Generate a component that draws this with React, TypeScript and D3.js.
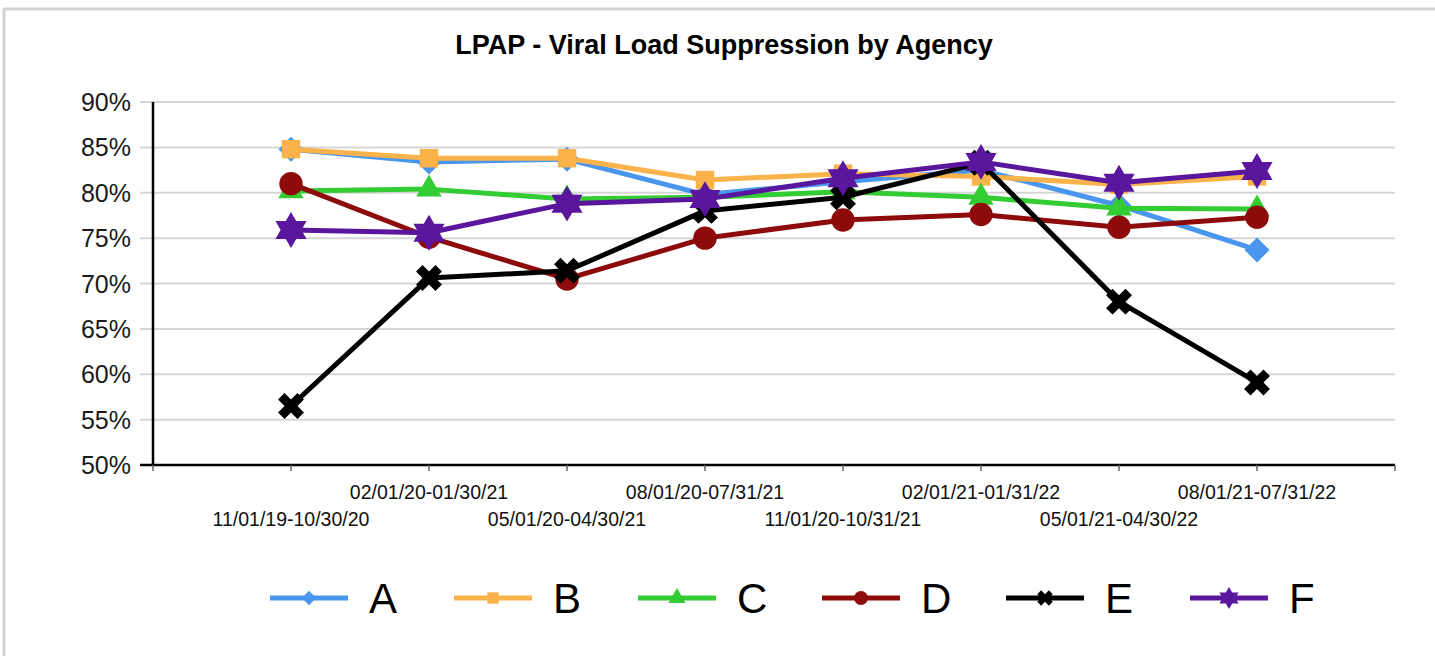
import React, { useEffect, useRef } from "react";
import * as d3 from "d3";

const periods = [
  "11/01/19-10/30/20",
  "02/01/20-01/30/21",
  "05/01/20-04/30/21",
  "08/01/20-07/31/21",
  "11/01/20-10/31/21",
  "02/01/21-01/31/22",
  "05/01/21-04/30/22",
  "08/01/21-07/31/22",
];

const agencyA = [84.8, 83.4, 83.7, 79.8, 81.2, 82.5, 78.6, 73.7];
const agencyB = [84.8, 83.8, 83.8, 81.4, 82.1, 81.8, 80.9, 81.8];
const agencyC = [80.2, 80.4, 79.3, 79.5, 80.1, 79.5, 78.3, 78.2];
const agencyD = [81.0, 75.1, 70.5, 75.0, 77.0, 77.6, 76.2, 77.3];
const agencyE = [56.5, 70.6, 71.4, 78.0, 79.5, 83.3, 68.0, 59.1];
const agencyF = [75.9, 75.6, 78.8, 79.3, 81.6, 83.4, 81.1, 82.4];

const yTicks = [50, 55, 60, 65, 70, 75, 80, 85, 90];

// six point star path
const star6 = {
  draw(ctx: any, size: number) {
    const r = Math.sqrt(size / 1.3);
    const ri = r * 0.58;
    for (let i = 0; i < 12; i++) {
      const a = (Math.PI / 6) * i - Math.PI / 2;
      const rr = i % 2 === 0 ? r : ri;
      const px = Math.cos(a) * rr;
      const py = Math.sin(a) * rr;
      if (i === 0) ctx.moveTo(px, py);
      else ctx.lineTo(px, py);
    }
    ctx.closePath();
  },
};

const series = [
  { name: "A", values: agencyA, color: "#4896EE", symbol: d3.symbolDiamond2, size: 400, legendSize: 130, rotate: 0 },
  { name: "B", values: agencyB, color: "#FAB24A", symbol: d3.symbolSquare, size: 340, legendSize: 130, rotate: 0 },
  { name: "C", values: agencyC, color: "#33CC33", symbol: d3.symbolTriangle, size: 280, legendSize: 130, rotate: 0 },
  { name: "D", values: agencyD, color: "#8E0B0B", symbol: d3.symbolCircle, size: 430, legendSize: 150, rotate: 0 },
  { name: "E", values: agencyE, color: "#000000", symbol: d3.symbolCross, size: 420, legendSize: 150, rotate: 45 },
  { name: "F", values: agencyF, color: "#5B169E", symbol: star6 as any, size: 420, legendSize: 160, rotate: 0 },
];

export default function App() {
  const ref = useRef<SVGSVGElement>(null);

  useEffect(() => {
    const svg = d3.select(ref.current);
    svg.selectAll("*").remove();

    const left = 153, right = 1395, top = 102, bottom = 465;
    const x = d3.scaleLinear().domain([0, periods.length + 1]).range([left, right]);
    const y = d3.scaleLinear().domain([50, 90]).range([bottom, top]);

    // frame
    svg.append("path")
      .attr("d", "M4,656 V9 H1435")
      .attr("fill", "none")
      .attr("stroke", "#d3d3d3")
      .attr("stroke-width", 3);

    svg.append("text")
      .attr("x", 724)
      .attr("y", 54)
      .attr("text-anchor", "middle")
      .attr("font-family", "Liberation Sans, Arial, sans-serif")
      .attr("font-weight", "bold")
      .attr("font-size", 27)
      .text("LPAP - Viral Load Suppression by Agency");

    // grid
    svg.append("g")
      .selectAll("line")
      .data(yTicks.filter((t) => t > 50))
      .enter()
      .append("line")
      .attr("x1", left - 13)
      .attr("x2", right)
      .attr("y1", (d) => y(d))
      .attr("y2", (d) => y(d))
      .attr("stroke", "#d6d6d6")
      .attr("stroke-width", 2);

    svg.append("g")
      .selectAll("text")
      .data(yTicks)
      .enter()
      .append("text")
      .attr("x", 131)
      .attr("y", (d) => y(d))
      .attr("dy", "0.36em")
      .attr("text-anchor", "end")
      .attr("font-family", "Liberation Sans, Arial, sans-serif")
      .attr("font-size", 25)
      .attr("fill", "#1a1a1a")
      .text((d) => d + "%");

    // axes
    svg.append("line")
      .attr("x1", left - 13).attr("x2", right)
      .attr("y1", bottom).attr("y2", bottom)
      .attr("stroke", "#000").attr("stroke-width", 2.5);
    svg.append("line")
      .attr("x1", left).attr("x2", left)
      .attr("y1", top).attr("y2", bottom)
      .attr("stroke", "#000").attr("stroke-width", 2.5);

    svg.append("g")
      .selectAll("line")
      .data(d3.range(periods.length + 2))
      .enter()
      .append("line")
      .attr("x1", (d) => x(d)).attr("x2", (d) => x(d))
      .attr("y1", bottom).attr("y2", bottom + 6)
      .attr("stroke", "#666").attr("stroke-width", 1.5);

    svg.append("g")
      .selectAll("text")
      .data(periods)
      .enter()
      .append("text")
      .attr("x", (d, i) => x(i + 1))
      .attr("y", (d, i) => (i % 2 === 0 ? 526 : 499))
      .attr("text-anchor", "middle")
      .attr("font-family", "Liberation Sans, Arial, sans-serif")
      .attr("font-size", 19.5)
      .attr("fill", "#111")
      .text((d) => d);

    const line = d3.line<number>()
      .x((d, i) => x(i + 1))
      .y((d) => y(d));

    series.forEach((s) => {
      const g = svg.append("g");
      g.append("path")
        .datum(s.values)
        .attr("d", line)
        .attr("fill", "none")
        .attr("stroke", s.color)
        .attr("stroke-width", 5)
        .attr("stroke-linejoin", "round");
      g.selectAll("path.m")
        .data(s.values)
        .enter()
        .append("path")
        .attr("class", "m")
        .attr("d", d3.symbol().type(s.symbol).size(s.size)())
        .attr("transform", (d, i) => `translate(${x(i + 1)},${y(d)}) rotate(${s.rotate})`)
        .attr("fill", s.color);
    });

    // legend
    const legend = svg.append("g");
    series.forEach((s, i) => {
      const lx = 270 + i * 184;
      const ly = 598;
      legend.append("line")
        .attr("x1", lx).attr("x2", lx + 78)
        .attr("y1", ly).attr("y2", ly)
        .attr("stroke", s.color).attr("stroke-width", 5);
      legend.append("path")
        .attr("d", d3.symbol().type(s.symbol).size(s.legendSize)())
        .attr("transform", `translate(${lx + 39},${ly}) rotate(${s.rotate})`)
        .attr("fill", s.color);
      legend.append("text")
        .attr("x", lx + 99)
        .attr("y", ly + 15)
        .attr("font-family", "Liberation Sans, Arial, sans-serif")
        .attr("font-size", 42)
        .attr("fill", "#000")
        .text(s.name);
    });
  }, []);

  return (
    <svg
      ref={ref}
      width={1435}
      height={656}
      style={{ position: "absolute", left: 0, top: 0, background: "#fff" }}
    />
  );
}
